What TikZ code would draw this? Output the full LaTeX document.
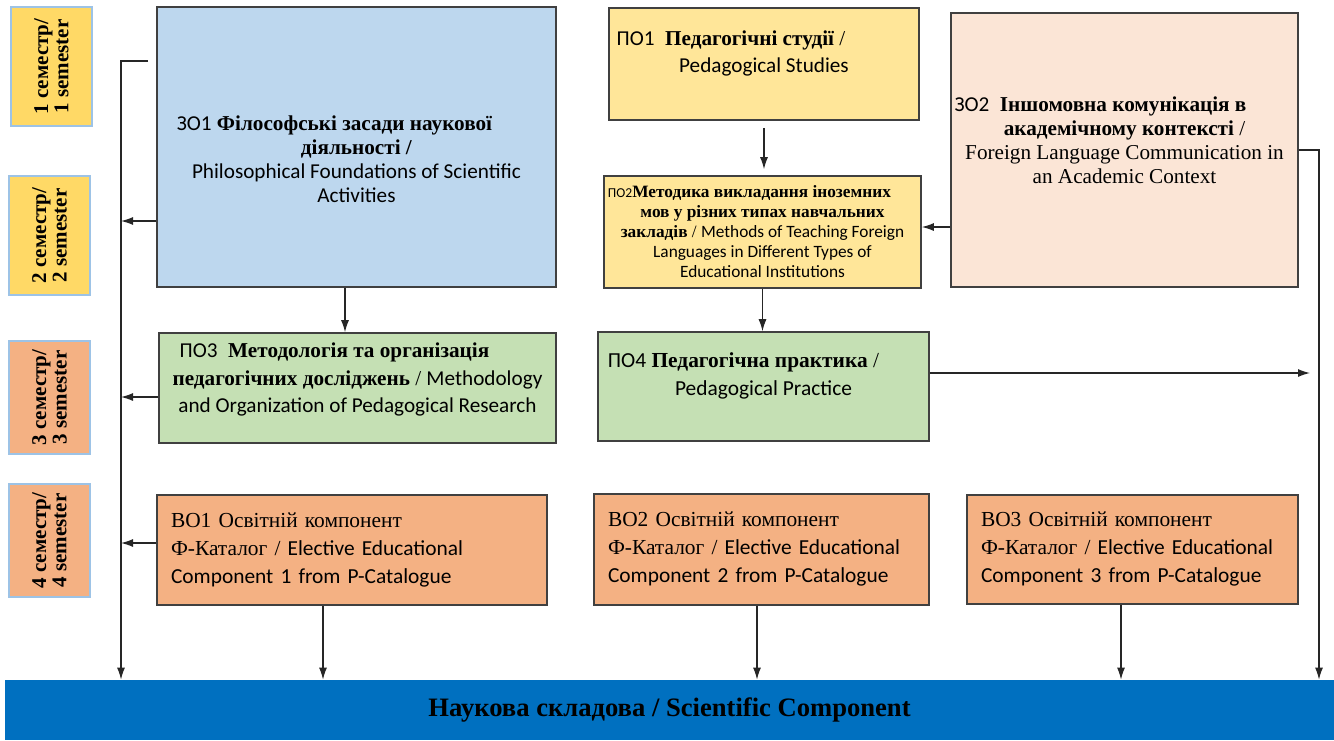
\documentclass[tikz,border=0pt]{standalone}
\usepackage{fontspec}
\setmainfont{Liberation Serif}
\newfontfamily\calfont{Carlito}
\usepackage{tikz}
\usepackage{xcolor}
\usetikzlibrary{arrows.meta}
\definecolor{semyellow}{HTML}{FFD966}
\definecolor{semorange}{HTML}{F4B183}
\definecolor{semline}{HTML}{9DC3E6}
\definecolor{zoblue}{HTML}{BDD7EE}
\definecolor{poyellow}{HTML}{FFE699}
\definecolor{zopeach}{HTML}{FBE5D6}
\definecolor{pogreen}{HTML}{C5E0B4}
\definecolor{barblue}{HTML}{0070C0}
\tikzstyle{sembox} = [draw=semline,line width=0.6pt,rectangle,rotate=90,
  minimum width=59.5pt,align=center,font=\bfseries\fontsize{10.5}{9}\selectfont]
\tikzstyle{subjbox} = [draw=black!75,line width=0.8pt,rectangle,align=center,
  inner sep=2pt,font=\fontsize{10.6}{12}\selectfont]
\tikzstyle{subjtext} = [align=center,inner sep=0pt,font=\fontsize{10.6}{12}\selectfont]
\tikzstyle{electbox} = [subjbox,align=left,inner xsep=7pt,
  font=\fontsize{10.7}{14}\selectfont]
\tikzstyle{arr} = [-{Latex[length=6pt,width=4pt]},black!85,line width=0.6pt]

\begin{document}
\begin{tikzpicture}[x=0.5pt,y=-0.5pt]
    \useasboundingbox (0,0) rectangle (1334,740);
    % semesters
    \node [sembox,fill=semyellow,minimum height=40.5pt] (sem1) at (51.5,66.5) {1 семестр/\\1 semester};
    \node [sembox,fill=semyellow,minimum height=40.5pt] (sem2) at (49.5,235.5) {2 семестр/\\2 semester};
    \node [sembox,fill=semorange,minimum width=56.5pt,minimum height=40.5pt] (sem3) at (49.5,397.5) {3 семестр/\\3 semester};
    \node [sembox,fill=semorange,minimum width=56.5pt,minimum height=40.5pt] (sem4) at (49.5,540.5) {4 семестр/\\4 semester};
    % subjects
    \node [subjbox,fill=zoblue,minimum width=199.5pt,minimum height=140pt] (zo1) at (356.5,147) {};
    \node [subjtext] (zo1txt) at ([yshift=-6.25pt]zo1.center) {%
      {\calfont ЗО1} \textbf{Філософські засади наукової}\hspace*{22pt}\\
      \textbf{діяльності /}\\
      {\calfont Philosophical Foundations of Scientific}\\
      {\calfont Activities}};
    \node [subjbox,fill=poyellow,minimum width=155pt,minimum height=56pt] (po1) at (764,64) {};
    \node [subjtext,font=\fontsize{10.6}{13.5}\selectfont] (po1txt) at ([yshift=5.25pt]po1.center) {%
      {\calfont ПО1}\enspace\textbf{Педагогічні студії} /\hspace*{33pt}\\
      {\calfont Pedagogical Studies}};
    \node [subjbox,fill=poyellow,minimum width=156.5pt,minimum height=56pt,
      font=\fontsize{8.65}{10}\selectfont] (po2) at (762.5,232) {%
      {\calfont\fontsize{6.8}{8}\selectfont ПО2}\textbf{Методика викладання іноземних}\hspace*{13pt}\\
      \textbf{мов у різних типах навчальних}\\
      \textbf{закладів} / {\calfont Methods of Teaching Foreign}\\
      {\calfont Languages in Different Types of}\\
      {\calfont Educational Institutions}};
    \node [subjbox,fill=zopeach,minimum width=173.5pt,minimum height=137pt] (zo2) at (1124.5,150) {};
    \node [subjtext] (zo2txt) at ([yshift=5pt]zo2.center) {%
      {\calfont ЗО2}\enspace\textbf{Іншомовна комунікація в}\hspace*{24pt}\\
      \textbf{академічному контексті} /\\
      Foreign Language Communication in\\
      an Academic Context};
    \node [subjbox,fill=pogreen,minimum width=198.5pt,minimum height=55pt] (po3) at (357.5,388) {};
    \node [subjtext,font=\fontsize{10.6}{13.8}\selectfont] (po3txt) at ([yshift=4.25pt]po3.center) {%
      {\calfont ПО3}\enspace\textbf{Методологія та організація}\hspace*{23pt}\\
      \textbf{педагогічних досліджень} / {\calfont Methodology}\\
      {\calfont and Organization of Pedagogical Research}};
    \node [subjbox,fill=pogreen,minimum width=165.5pt,minimum height=54.5pt] (po4) at (763.5,386.5) {};
    \node [subjtext,font=\fontsize{10.7}{14}\selectfont] (po4txt) at ([yshift=5.25pt]po4.center) {%
      {\calfont ПО4} \textbf{Педагогічна практика} /\hspace*{20pt}\\
      {\calfont Pedagogical Practice}};
    \node [electbox,fill=semorange,text width=181pt,minimum height=55pt] (vo1) at (352,550) {%
      ВО1 Освітній компонент\\
      Ф-Каталог / {\calfont Elective Educational}\\
      {\calfont Component 1 from P-Catalogue}};
    \node [electbox,fill=semorange,text width=153.5pt,minimum height=55.5pt] (vo2) at (761.5,549.5) {%
      ВО2 Освітній компонент\\
      Ф-Каталог / {\calfont Elective Educational}\\
      {\calfont Component 2 from P-Catalogue}};
    \node [electbox,fill=semorange,text width=151.5pt,minimum height=54.5pt] (vo3) at (1132.5,549.5) {%
      ВО3 Освітній компонент\\
      Ф-Каталог / {\calfont Elective Educational}\\
      {\calfont Component 3 from P-Catalogue}};
    \node [fill=barblue,minimum width=664.5pt,minimum height=30pt,inner sep=0pt,
      font=\bfseries\fontsize{13.3}{15}\selectfont] (bar) at (669.5,710) {Наукова складова / Scientific Component};
    % connectors
    \coordinate (stub) at (148,61);
    \coordinate (rail) at (121,61);
    \draw [arr] (stub) -- (rail) -- (rail |- bar.north);
    \coordinate (l2) at (121,221);
    \coordinate (l3) at (121,397);
    \coordinate (l4) at (121,543);
    \draw [arr] (zo1.west |- l2) -- (l2);
    \draw [arr] (po3.west |- l3) -- (l3);
    \draw [arr] (vo1.west |- l4) -- (l4);
    \coordinate (d1) at (345,300);
    \draw [arr] (zo1.south -| d1) -- (po3.north -| d1);
    \draw [arr,shorten <=3.5pt,shorten >=3pt] (po1.south) -- (po1.south |- po2.north);
    \draw [arr] (po2.south) -- (po2.south |- po4.north);
    \coordinate (k) at (935,227);
    \draw [arr] (zo2.west |- k) -- (po2.east |- k);
    \coordinate (r) at (1319,150);
    \draw [arr] (zo2.east) -- (r) -- (r |- bar.north);
    \coordinate (pend) at (1310,373);
    \draw [arr] (po4.east |- pend) -- (pend);
    \foreach \b/\x in {vo1/323,vo2/757,vo3/1121} {
      \coordinate (v) at (\x,640);
      \draw [arr] (\b.south -| v) -- (bar.north -| v);
    }
\end{tikzpicture}
\end{document}
